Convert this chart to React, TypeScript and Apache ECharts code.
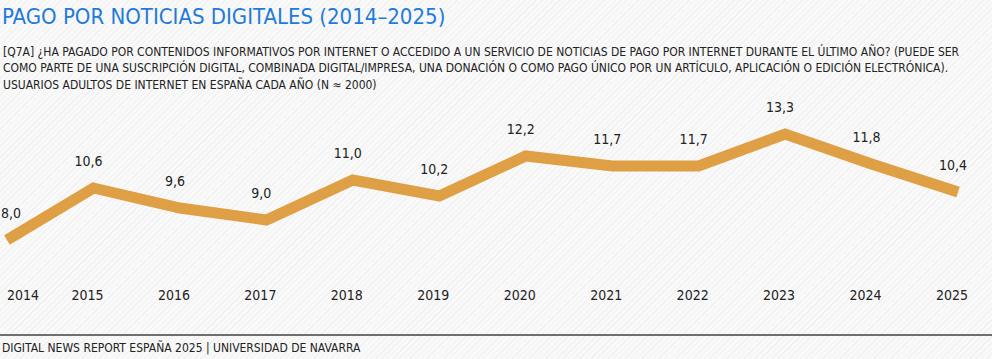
import React, { useEffect, useRef } from "react";
import * as echarts from "echarts";

const years = ["2014", "2015", "2016", "2017", "2018", "2019", "2020", "2021", "2022", "2023", "2024", "2025"];
const values = [8.0, 10.6, 9.6, 9.0, 11.0, 10.2, 12.2, 11.7, 11.7, 13.3, 11.8, 10.4];

const titleText = "PAGO POR NOTICIAS DIGITALES (2014–2025)";
const subtitleLines = [
  "[Q7A] ¿HA PAGADO POR CONTENIDOS INFORMATIVOS POR INTERNET O ACCEDIDO A UN SERVICIO DE NOTICIAS DE PAGO POR INTERNET DURANTE EL ÚLTIMO AÑO? (PUEDE SER",
  "COMO PARTE DE UNA SUSCRIPCIÓN DIGITAL, COMBINADA DIGITAL/IMPRESA, UNA DONACIÓN O COMO PAGO ÚNICO POR UN ARTÍCULO, APLICACIÓN O EDICIÓN ELECTRÓNICA).",
  "USUARIOS ADULTOS DE INTERNET EN ESPAÑA CADA AÑO (N ≈ 2000)",
];
const footerText = "DIGITAL NEWS REPORT ESPAÑA 2025 | UNIVERSIDAD DE NAVARRA";

const FONT = '"DejaVu Sans Condensed", "Noto Sans", sans-serif';
const LINE_COLOR = "#DF9F45";

export default function App() {
  const ref = useRef<HTMLDivElement>(null);
  useEffect(() => {
    document.body.style.margin = "0";
    if (!ref.current) return;
    const chart = echarts.init(ref.current, undefined, { renderer: "svg" });
    chart.setOption({
      animation: false,
      backgroundColor: "transparent",
      textStyle: { fontFamily: FONT },
      title: {
        text: titleText,
        left: 2,
        top: 5,
        padding: 0,
        textStyle: { fontFamily: FONT, fontSize: 22, fontWeight: "normal", color: "#1F7BDB" },
      },
      graphic: [
        ...subtitleLines.map((t, i) => ({
          type: "text",
          left: 3,
          top: 46 + i * 16.4,
          style: { text: t, fontFamily: FONT, fontSize: 12, fill: "#222" },
        })),
        {
          type: "rect",
          shape: { x: 0, y: 334, width: 992, height: 2 },
          style: { fill: "#6f6f6f" },
        },
        {
          type: "text",
          left: 2,
          top: 342,
          style: { text: footerText, fontFamily: FONT, fontSize: 12, fill: "#222" },
        },
      ],
      grid: { left: 7, right: 34, top: 120, bottom: 79, containLabel: false },
      xAxis: {
        type: "category",
        data: years,
        boundaryGap: false,
        axisLine: { show: false },
        axisTick: { show: false },
        axisLabel: {
          margin: 8,
          fontFamily: FONT,
          fontSize: 14,
          color: "#222",
          padding: [0, 12, 0, 0],
          alignMinLabel: "left",
        },
        splitLine: { show: false },
      },
      yAxis: {
        type: "value",
        min: 6,
        max: 14,
        show: false,
      },
      series: [
        {
          type: "line",
          data: values.map((v, i) => (i === 0 ? { value: v, label: { offset: [4, 0] } } : v)),
          symbol: "circle",
          symbolSize: 1,
          showSymbol: true,
          itemStyle: { color: LINE_COLOR },
          lineStyle: { color: LINE_COLOR, width: 11, join: "miter" },
          label: {
            show: true,
            position: "top",
            distance: 20,
            offset: [-5, 0],
            fontFamily: FONT,
            fontSize: 14,
            color: "#222",
            formatter: (p: any) => p.value.toFixed(1).replace(".", ","),
          },
        },
      ],
    });
    return () => chart.dispose();
  }, []);
  return (
    <div
      ref={ref}
      style={{
        position: "absolute",
        left: 0,
        top: 0,
        width: 992,
        height: 359,
        background:
          "repeating-linear-gradient(135deg, #f9f9f9 0px, #f9f9f9 3px, #f1f1f1 3px, #f1f1f1 4px)",
      }}
    />
  );
}
